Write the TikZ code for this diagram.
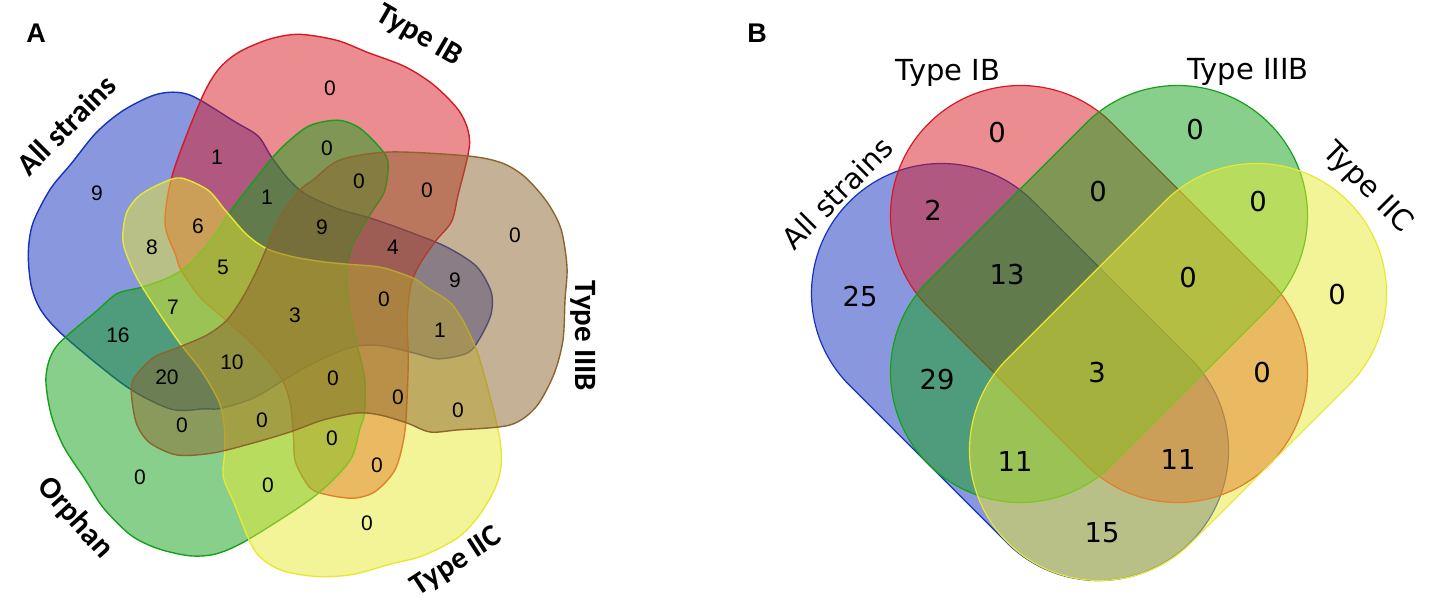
\documentclass[tikz,border=0pt]{standalone}
\usepackage{fontspec}
\setmainfont{Liberation Sans}
\newfontfamily\labfont{Carlito}
\newfontfamily\vennfont{DejaVu Sans}
\usetikzlibrary{shapes.misc}

\definecolor{vblue}{RGB}{20,50,190}
\definecolor{vred}{RGB}{215,25,35}
\definecolor{vgreen}{RGB}{20,160,25}
\definecolor{vbrown}{RGB}{140,100,45}
\definecolor{vyellow}{RGB}{232,232,50}

\tikzset{
	blob/.style={line width=0.7pt, fill opacity=0.5},
	capsule/.style={rounded rectangle, inner sep=0pt, minimum width=241pt, minimum height=130pt, line width=0.6pt, fill opacity=0.5},
	numA/.style={font=\fontsize{10.5}{12}\selectfont},
	numB/.style={font=\vennfont\fontsize{13.7}{16}\selectfont},
	setA/.style={font=\labfont\bfseries\fontsize{15.5}{18}\selectfont},
	setB/.style={font=\vennfont\fontsize{14.5}{17}\selectfont},
	panel/.style={font=\bfseries\fontsize{13.5}{16}\selectfont},
}

\begin{document}
\begin{tikzpicture}[x=0.5pt, y=-0.5pt]
	\useasboundingbox (0,0) rectangle (1429,613);

	% panel A: five blobs, one shape turned by 72 degrees
	\foreach \k/\col in {2/vblue, 1/vred, 3/vgreen, 4/vyellow, 0/vbrown}
		\draw[blob, draw=\col, fill=\col, shift={(296,312)}, rotate=72*\k]
			plot[smooth cycle] coordinates {
				(17,-132) (44,-152) (94,-160) (172,-156) (206,-149) (229,-135)
				(251,-110) (265,-83) (271,-45) (269,-12) (267,28) (258,62)
				(240,95) (214,113) (161,118) (134,120) (111,111) (84,103)
				(61,101) (27,108) (-6,120) (-43,131) (-83,141) (-119,143)
				(-146,131) (-159,113) (-164,88) (-163,68) (-143,46) (-119,36)
				(-89,23) (-69,8) (-53,-15) (-39,-42) (-29,-65) (-16,-95) (4,-122)};

	\foreach \x/\y/\t [count=\i] in {97/193/9, 330/88/0, 217/157/1, 327/148/0,
		359/181/0, 427/190/0, 267/197/1, 198/226/6, 322/227/9, 152/247/8,
		393/247/4, 223/267/5, 455/280/9, 384/299/0, 173/307/7, 295/315/3,
		118/335/16, 440/330/1, 232/362/10, 167/377/20, 333/378/0, 398/397/0,
		458/410/0, 182/425/0, 262/420/0, 332/438/0, 515/235/0, 140/477/0,
		268/485/0, 377/465/0, 367/523/0}
		\node[numA] (a\i) at (\x,\y) {\t};

	\node[panel] (pa) at (36,33) {A};
	\node[setA, rotate=45] (la-all) at (66,125) {All strains};
	\node[setA, rotate=-30] (la-ib) at (419,36) {Type IB};
	\node[setA, rotate=-90] (la-iiib) at (583,336) {Type IIIB};
	\node[setA, rotate=33] (la-iic) at (457,562) {Type IIC};
	\node[setA, rotate=-48] (la-orph) at (75,518) {Orphan};

	% panel B: four capsules
	\node[capsule, draw=vblue, fill=vblue, rotate=-45] (s-all) at (1020,372) {};
	\node[capsule, draw=vred, fill=vred, rotate=-45] (s-ib) at (1099,294) {};
	\node[capsule, draw=vgreen, fill=vgreen, rotate=45] (s-iiib) at (1099,294) {};
	\node[capsule, draw=vyellow, fill=vyellow, rotate=45] (s-iic) at (1178,372) {};

	\foreach \x/\y/\t [count=\i] in {997/133/0, 1195/130/0, 933/210/2,
		1098/192/0, 1258/202/0, 860/297/25, 1007/275/13, 1188/278/0,
		1337/295/0, 937/380/29, 1097/373/3, 1262/373/0, 1015/462/11,
		1178/460/11, 1102/533/15}
		\node[numB] (b\i) at (\x,\y) {\t};

	\node[panel] (pb) at (757,33) {B};
	\node[setB] (lb-ib) at (948,73) {Type IB};
	\node[setB] (lb-iiib) at (1248,72) {Type IIIB};
	\node[setB, rotate=45] (lb-all) at (837,193) {All strains};
	\node[setB, rotate=-45] (lb-iic) at (1367,188) {Type IIC};
\end{tikzpicture}
\end{document}
